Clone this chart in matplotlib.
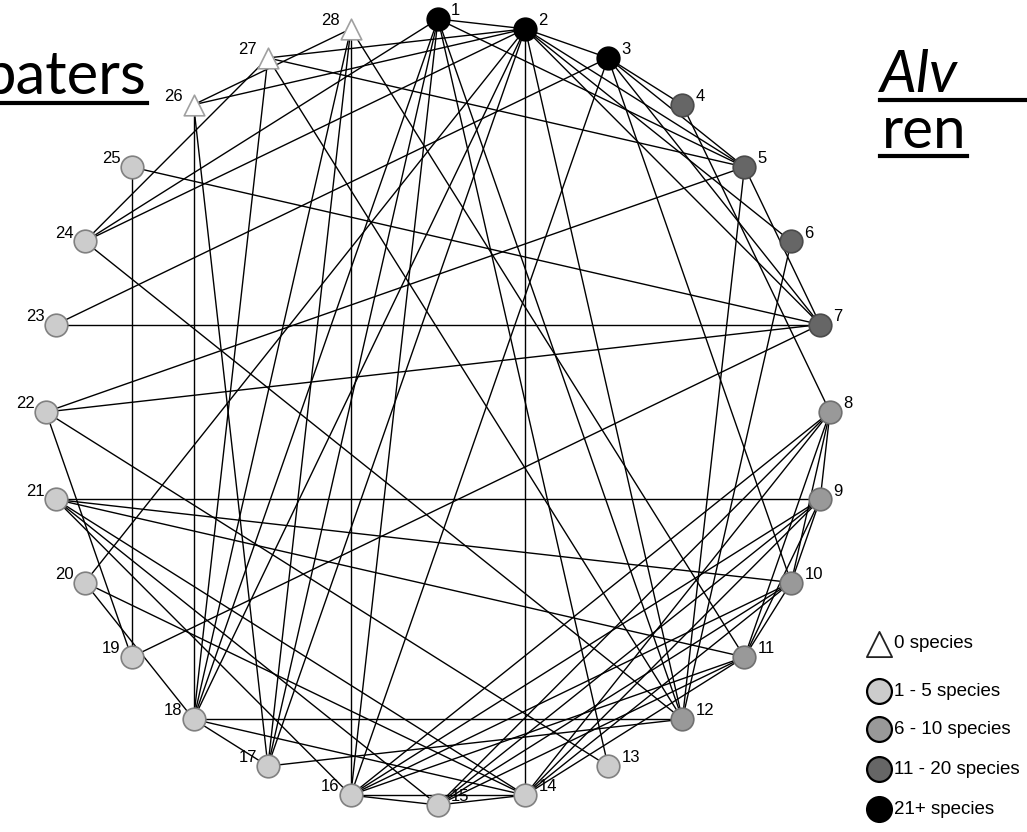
import numpy as np
import matplotlib.pyplot as plt
from matplotlib.lines import Line2D

# nodes numbered clockwise from the top
node_ids = list(range(1, 29))

# species class of each node: 0 = none, 1 = 1-5, 2 = 6-10, 3 = 11-20, 4 = 21+
node_class = [4, 4, 4,
              3, 3, 3, 3,
              2, 2, 2, 2, 2,
              1, 1, 1, 1, 1, 1, 1, 1, 1, 1, 1, 1, 1,
              0, 0, 0]

# shared links between nodes
edges = [
    (1, 2), (1, 5), (1, 12), (1, 13), (1, 16), (1, 17), (1, 18), (1, 24),
    (2, 3), (2, 5), (2, 6), (2, 7), (2, 12), (2, 14), (2, 17), (2, 18),
    (2, 20), (2, 24), (2, 26), (2, 27),
    (3, 4), (3, 5), (3, 7), (3, 10), (3, 16), (3, 23),
    (4, 8),
    (5, 7), (5, 12), (5, 22), (5, 27),
    (6, 12),
    (7, 19), (7, 22), (7, 23), (7, 25),
    (8, 9), (8, 10), (8, 11), (8, 14), (8, 15), (8, 16),
    (9, 10), (9, 11), (9, 14), (9, 15), (9, 16), (9, 21),
    (10, 11), (10, 14), (10, 15), (10, 16), (10, 21),
    (11, 14), (11, 15), (11, 16), (11, 21), (11, 28),
    (12, 17), (12, 18), (12, 24), (12, 27),
    (13, 22),
    (14, 15), (14, 16), (14, 18), (14, 20), (14, 21),
    (15, 16), (15, 21),
    (16, 21), (16, 28),
    (17, 18), (17, 26), (17, 28),
    (18, 20), (18, 26), (18, 27), (18, 28),
    (19, 22), (19, 25),
    (24, 27),
    (26, 28),
]

class_labels = ['0 species', '1 - 5 species', '6 - 10 species',
                '11 - 20 species', '21+ species']

class_fill = ['white', '#cccccc', '#999999', '#666666', 'black']
class_edge = ['#a0a0a0', '#808080', '#707070', '#4a4a4a', 'black']
class_marker = ['^', 'o', 'o', 'o', 'o']

W, H = 1027, 832


def main():
    fig = plt.figure(figsize=(W / 100, H / 100), dpi=100)
    ax = fig.add_axes([0, 0, 1, 1])
    # circle of radius 1 centred at pixel (438, 412)
    ax.set_xlim(-438 / 392, (W - 438) / 392)
    ax.set_ylim(-(H - 412) / 393, 412 / 393)
    ax.axis('off')

    n = len(node_ids)
    ang = np.deg2rad(90 - np.arange(n) * 360 / n)
    xs = np.cos(ang)
    ys = np.sin(ang)

    for a, b in edges:
        ax.plot([xs[a - 1], xs[b - 1]], [ys[a - 1], ys[b - 1]],
                color='black', lw=1.0, zorder=1)

    cls = np.array(node_class)
    for c in range(5):
        idx = np.where(cls == c)[0]
        ax.scatter(xs[idx], ys[idx], s=220 if c == 0 else 265,
                   marker=class_marker[c], facecolor=class_fill[c],
                   edgecolor=class_edge[c], linewidths=1.2, zorder=3)

    # node numbers: right of the node on the right half, left on the left half
    for i, nid in enumerate(node_ids):
        right_side = nid <= 15
        ax.annotate(str(nid), (xs[i], ys[i]),
                    xytext=(9.5 if right_side else -8, 6),
                    textcoords='offset points',
                    ha='left' if right_side else 'right', va='center',
                    fontsize=12, family='Liberation Sans', zorder=4)

    # legend
    leg_y = [644, 691, 729, 769, 809]
    for c in range(5):
        yf = 1 - leg_y[c] / H
        ax.scatter([879 / W], [yf], transform=ax.transAxes,
                   s=330 if c == 0 else 320, marker=class_marker[c],
                   facecolor=class_fill[c],
                   edgecolor='black' if c else '#222222',
                   linewidths=1.6 if c else 1.3, zorder=3, clip_on=False)
        fig.text(894 / W, yf, class_labels[c], ha='left', va='center',
                 fontsize=13.5, family='Liberation Sans')

    # headings
    title_font = ['Lato', 'DejaVu Sans']
    t1 = fig.text(147 / W, 1 - 94 / H, 'paters', ha='right', va='baseline',
                  fontsize=43, family=title_font)
    t2 = fig.text(880 / W, 1 - 92 / H, 'Alv', ha='left', va='baseline',
                  fontsize=42, family=title_font, style='italic')
    t3 = fig.text(882 / W, 1 - 148 / H, 'ren', ha='left', va='baseline',
                  fontsize=42, family=title_font)

    fig.canvas.draw()
    for t, ypx, x0, x1 in [(t1, 103, 0, None), (t2, 100, 880, W),
                            (t3, 156, 880, None)]:
        bb = t.get_window_extent()
        right = bb.x1 if x1 is None else x1
        fig.add_artist(Line2D([x0 / W, right / W], [1 - ypx / H] * 2,
                              transform=fig.transFigure, color='black', lw=3))

    fig.savefig('out.png', dpi=100)


if __name__ == '__main__':
    main()
